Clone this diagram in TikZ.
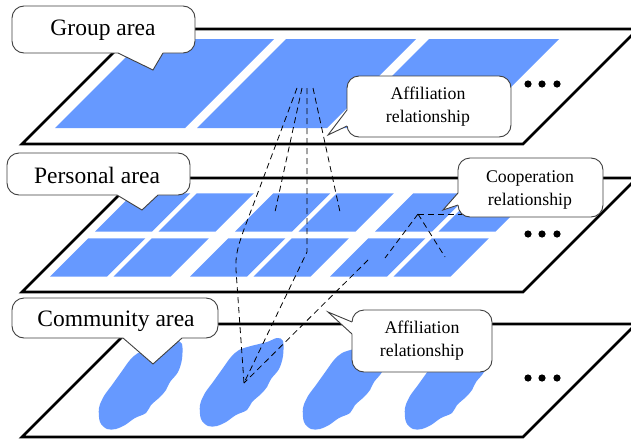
\documentclass[tikz,border=0pt]{standalone}
\usepackage{fontspec}
\setmainfont{Liberation Serif}
\definecolor{cellblue}{RGB}{102,153,255}
\begin{document}
\begin{tikzpicture}[x=1pt,y=-1pt,
  plane/.style={draw=black, line width=2.8pt, fill=white, line join=miter},
  cell/.style={fill=cellblue},
  dline/.style={draw=black, line width=0.8pt, dash pattern=on 6pt off 4pt},
  callbox/.style={draw=black!75, line width=0.9pt, fill=white, rounded corners=12pt},
  callptr/.style={draw=black!75, line width=0.9pt, line join=miter},
  bigtxt/.style={font=\fontsize{23.5}{26}\selectfont, inner sep=0pt},
  smalltxt/.style={font=\fontsize{17.8}{23}\selectfont, align=center, inner sep=0pt}
]
\useasboundingbox (0,0) rectangle (631,439);
\clip (0,0) rectangle (631,439);
\fill[white] (0,0) rectangle (631,439);

% planes
\draw[plane] (22,144) -- (523,144) -- (638,29) -- (137,29) -- cycle;
\draw[plane] (22,292) -- (523,292) -- (637,178) -- (136,178) -- cycle;
\draw[plane] (22,437) -- (523,437) -- (636,324) -- (135,324) -- cycle;

% group regions (top plane)
\foreach \bx in {55,197,340}
  \fill[cell] (\bx,128) -- ++(130,0) -- ++(89,-89) -- ++(-130,0) -- cycle;

% personal cells (middle plane)
\foreach \g in {0,1,2}
  \foreach \c in {0,1} {
    \pgfmathsetmacro{\bx}{50+140*\g+63.5*\c}
    \fill[cell] (\bx,276.7) -- ++(57,0) -- ++(38.4,-38.4) -- ++(-57,0) -- cycle;
    \fill[cell] ({\bx+45},231.7) -- ++(57,0) -- ++(38.4,-38.4) -- ++(-57,0) -- cycle;
  }

% community blobs (bottom plane)
\foreach \cx/\cy in {142/385, 243/382, 346/385, 448/385}
  \fill[cell, shift={(\cx,\cy)}] plot[smooth cycle, tension=0.55] coordinates {
    (40,-41) (40,-26) (36,-13) (28,-3) (24,5) (18,12) (9,20) (4,28) (-7,33)
    (-17,40) (-26,44) (-35,44) (-42,37) (-43,23) (-38,11) (-30,0) (-20,-14)
    (-12,-25) (-4,-32) (8,-36) (24,-40) (34,-44)};

% dots
\foreach \yy in {84,234,378}
  \foreach \xx in {528,542,557}
    \fill[black] (\xx,\yy) circle (3.6);

% coordinates for relationship lines
\coordinate (f1) at (297,88);
\coordinate (f2) at (302,88);
\coordinate (f3) at (307,88);
\coordinate (f4) at (313,88);
\coordinate (e2) at (275,212);
\coordinate (e4) at (340,212);
\coordinate (k1) at (257,195);
\coordinate (k1b) at (236,270);
\coordinate (k3) at (307,252);
\coordinate (b2) at (244,383);
\coordinate (c5) at (368,260);
\coordinate (j) at (418,214);
\coordinate (jr) at (462,214);
\coordinate (jl) at (385,258);
\coordinate (jd) at (445,257);

% affiliation: group -> persons (and on to community)
\draw[dline] (f1) -- (k1) .. controls (240,240) and (235,250) .. (k1b) -- (b2);
\draw[dline] (f2) -- (e2);
\draw[dline] (f3) -- (k3) -- (b2);
\draw[dline] (f4) -- (e4);
% affiliation: person -> community
\draw[dline] (c5) -- (b2);
% cooperation
\draw[dline] (j) -- (jr);
\draw[dline] (j) -- (jl);
\draw[dline] (j) -- (jd);

% callouts: box, white pointer fill, pointer edges
\draw[callbox] (12,6) rectangle (195,53);
\fill[white] (118,51) -- (118,53) -- (153,70) -- (163,53) -- (163,51) -- cycle;
\draw[callptr] (118,53) -- (153,70) -- (163,53);

\draw[callbox] (347,76) rectangle (511,137);
\fill[white] (349,110) -- (347,110) -- (328,135) -- (347,126) -- (349,126) -- cycle;
\draw[callptr] (347,110) -- (328,135) -- (347,126);

\draw[callbox] (7,153) rectangle (190,195);
\fill[white] (117,193) -- (117,195) -- (142,210) -- (158,195) -- (158,193) -- cycle;
\draw[callptr] (117,195) -- (142,210) -- (158,195);

\draw[callbox] (458,158) rectangle (603,217);
\fill[white] (460,193) -- (458,193) -- (443,210) -- (458,205) -- (460,205) -- cycle;
\draw[callptr] (458,193) -- (443,210) -- (458,205);

\draw[callbox] (12,298) rectangle (218,338);
\fill[white] (123,336) -- (123,338) -- (153,364) -- (182,338) -- (182,336) -- cycle;
\draw[callptr] (123,338) -- (153,364) -- (182,338);

\draw[callbox] (352,310) rectangle (492,372);
\fill[white] (354,322) -- (352,322) -- (328,312) -- (352,334) -- (354,334) -- cycle;
\draw[callptr] (352,322) -- (328,312) -- (352,334);

% texts
\node[bigtxt] (tg) at (103,30) {Group area};
\node[smalltxt] (ta1) at (428,107) {Affiliation\\relationship};
\node[bigtxt] (tp) at (97,175) {Personal area};
\node[smalltxt] (tc) at (530,190) {Cooperation\\relationship};
\node[bigtxt] (tcm) at (116,321) {Community area};
\node[smalltxt] (ta2) at (422,341) {Affiliation\\relationship};
\end{tikzpicture}
\end{document}
